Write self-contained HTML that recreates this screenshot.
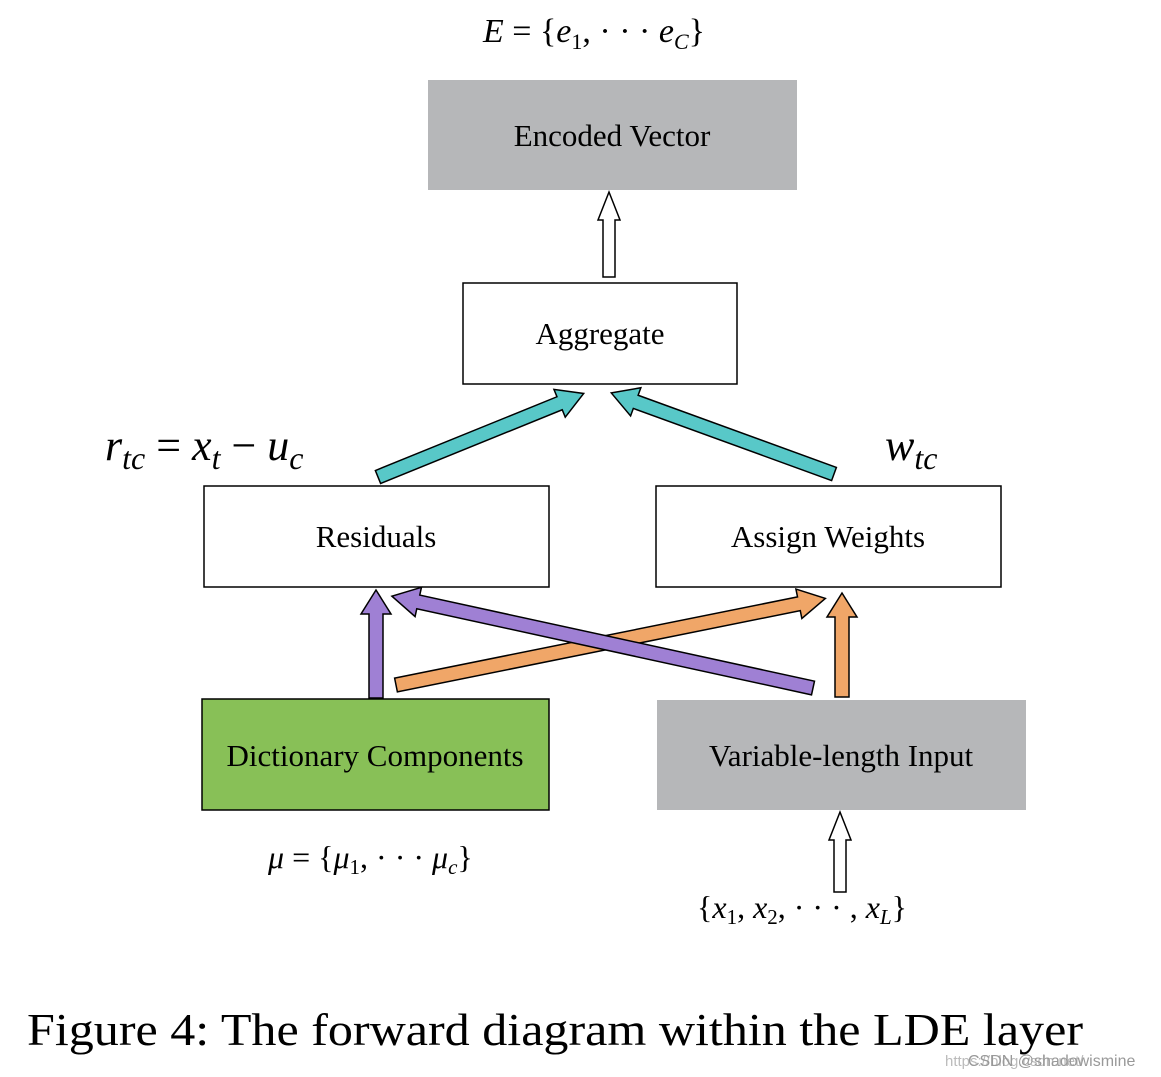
<!DOCTYPE html>
<html><head><meta charset="utf-8"><style>
html,body{margin:0;padding:0;background:#fff;width:1161px;height:1077px;overflow:hidden}
svg{display:block}
text{font-family:"Liberation Serif","DejaVu Serif",serif;fill:#000}
.m{font-style:italic}
</style></head><body>
<svg width="1161" height="1077" viewBox="0 0 1161 1077" xmlns="http://www.w3.org/2000/svg">
<!-- boxes -->
<rect x="428" y="80" width="369" height="110" fill="#b6b7b9"/>
<text x="612" y="146" font-size="31" text-anchor="middle">Encoded Vector</text>
<rect x="463" y="283" width="274" height="101" fill="#fff" stroke="#000" stroke-width="1.5"/>
<text x="600" y="344" font-size="31" text-anchor="middle">Aggregate</text>
<rect x="204" y="486" width="345" height="101" fill="#fff" stroke="#000" stroke-width="1.5"/>
<text x="376" y="547" font-size="31" text-anchor="middle">Residuals</text>
<rect x="656" y="486" width="345" height="101" fill="#fff" stroke="#000" stroke-width="1.5"/>
<text x="828" y="547" font-size="31" text-anchor="middle">Assign Weights</text>
<rect x="202" y="699" width="347" height="111" fill="#88c057" stroke="#000" stroke-width="1.5"/>
<text x="375" y="766" font-size="31" text-anchor="middle">Dictionary Components</text>
<rect x="657" y="700" width="369" height="110" fill="#b6b7b9"/>
<text x="841" y="766" font-size="31" text-anchor="middle">Variable-length Input</text>

<!-- arrows: polygon along +x, L length -->
<g stroke="#000" stroke-width="1.5" stroke-linejoin="miter">
<!-- hollow up top -->
<g transform="translate(609,277) rotate(-90)"><polygon fill="#fff" points="0,-6 57,-6 57,-11 85,0 57,11 57,6 0,6"/></g>
<!-- hollow input -->
<g transform="translate(840,892) rotate(-90)"><polygon fill="#fff" points="0,-6 52,-6 52,-11 80,0 52,11 52,6 0,6"/></g>
<!-- cyan -->
<g transform="translate(378,477) rotate(-22.1)"><polygon fill="#58c8c8" points="0,-7 196,-7 196,-15 222,0 196,15 196,7 0,7"/></g>
<g transform="translate(834,474) rotate(-160)"><polygon fill="#58c8c8" points="0,-7 211,-7 211,-15 237,0 211,15 211,7 0,7"/></g>
<!-- verticals -->
<g transform="translate(376,698) rotate(-90)"><polygon fill="#9f80d4" points="0,-7 84,-7 84,-15 108,0 84,15 84,7 0,7"/></g>
<g transform="translate(842,697) rotate(-90)"><polygon fill="#f0a668" points="0,-7 80,-7 80,-15 104,0 80,15 80,7 0,7"/></g>
<!-- orange diag -->
<g transform="translate(396,685) rotate(-11.4)"><polygon fill="#f0a668" points="0,-7 411,-7 411,-15 438,0 411,15 411,7 0,7"/></g>
<!-- purple diag (on top) -->
<g transform="translate(813,688) rotate(-167.7)"><polygon fill="#9f80d4" points="0,-7 404,-7 404,-15 431,0 404,15 404,7 0,7"/></g>
</g>

<!-- math labels -->
<text x="483" y="42" font-size="34"><tspan class="m">E</tspan> = {<tspan class="m">e</tspan><tspan font-size="22" dy="7">1</tspan><tspan dy="-7">, · · · </tspan><tspan class="m">e</tspan><tspan class="m" font-size="22" dy="7">C</tspan><tspan dy="-7">}</tspan></text>
<text x="105" y="460" font-size="44"><tspan class="m">r</tspan><tspan class="m" font-size="32" dy="9">tc</tspan><tspan dy="-9"> = </tspan><tspan class="m">x</tspan><tspan class="m" font-size="32" dy="9">t</tspan><tspan dy="-9"> − </tspan><tspan class="m">u</tspan><tspan class="m" font-size="32" dy="9">c</tspan></text>
<text x="885" y="460" font-size="44"><tspan class="m">w</tspan><tspan class="m" font-size="32" dy="9">tc</tspan></text>
<text x="268" y="868" font-size="32"><tspan class="m">μ</tspan> = {<tspan class="m">μ</tspan><tspan font-size="21" dy="6">1</tspan><tspan dy="-6">, · · · </tspan><tspan class="m">μ</tspan><tspan class="m" font-size="21" dy="6">c</tspan><tspan dy="-6">}</tspan></text>
<text x="697" y="918" font-size="32">{<tspan class="m">x</tspan><tspan font-size="21" dy="6">1</tspan><tspan dy="-6">, </tspan><tspan class="m">x</tspan><tspan font-size="21" dy="6">2</tspan><tspan dy="-6">, · · · , </tspan><tspan class="m">x</tspan><tspan class="m" font-size="21" dy="6">L</tspan><tspan dy="-6">}</tspan></text>

<text x="27" y="1045" font-size="46" textLength="1056" lengthAdjust="spacingAndGlyphs">Figure 4: The forward diagram within the LDE layer</text>
<text x="945" y="1066" font-size="15" fill="#aaa" style="font-family:'Liberation Sans',sans-serif;fill:#bbb">https://blog.csdn.net/</text>
<text x="968" y="1066" font-size="16" style="font-family:'Liberation Sans',sans-serif;fill:#999">CSDN @shadowismine</text>
</svg>
</body></html>
